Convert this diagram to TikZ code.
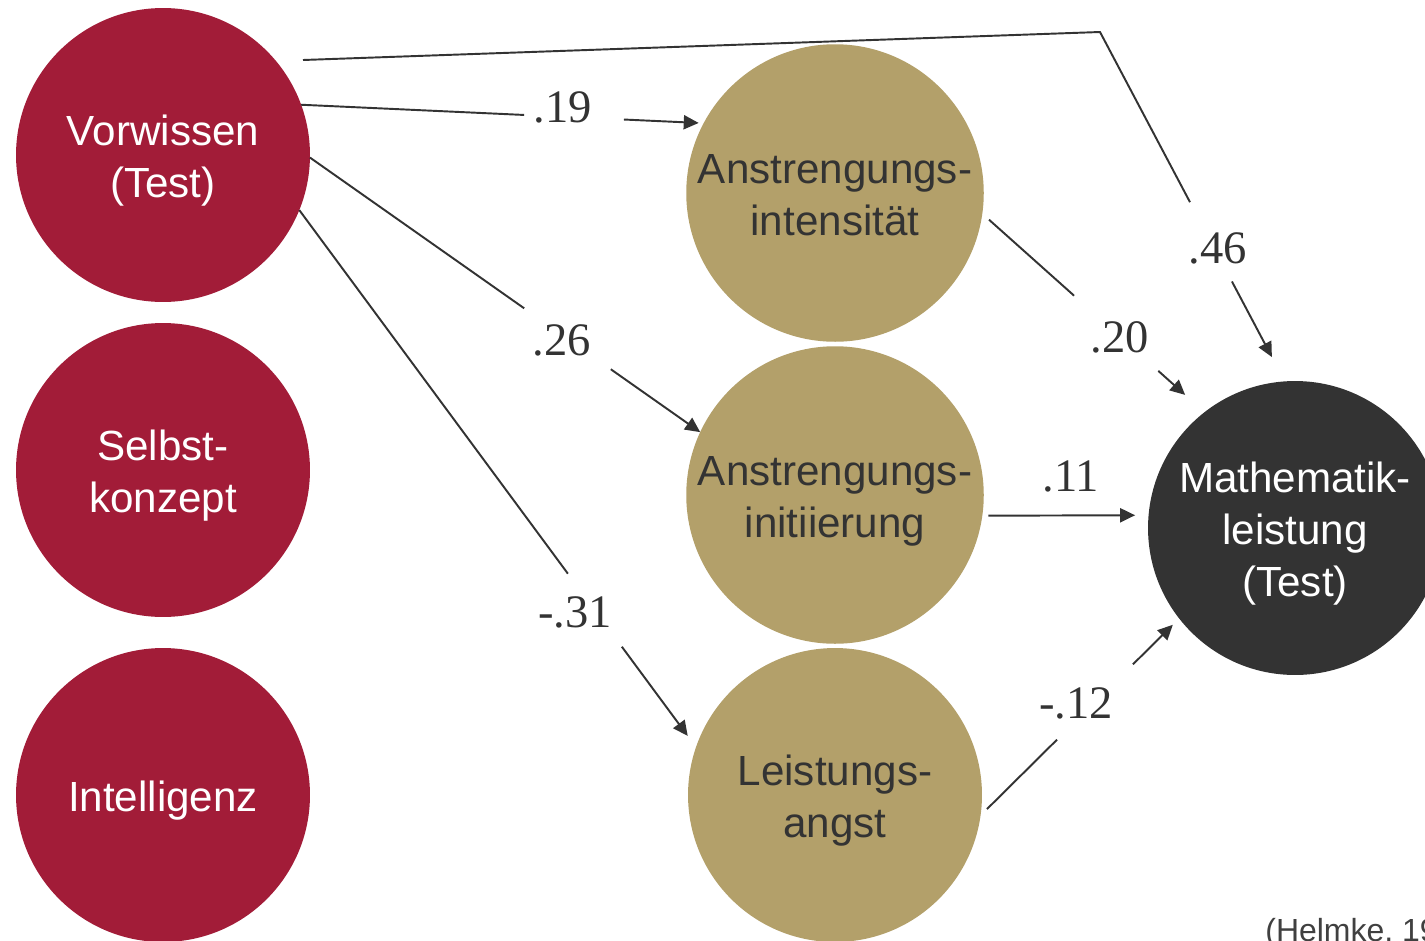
\documentclass[tikz,border=0pt]{standalone}
\usepackage{fontspec}
\setmainfont{Liberation Sans}
\newfontfamily\numfont{Liberation Serif}
\usetikzlibrary{arrows.meta}

\definecolor{wine}{HTML}{A21C38}
\definecolor{sand}{HTML}{B3A06A}
\definecolor{coal}{HTML}{333333}
\definecolor{ink}{HTML}{333333}
\definecolor{srcgray}{HTML}{404040}

% centred lines of a circle's text, set a little below the circle's centre
\newcommand\balltext[1]{\raisebox{0pt}[\dimexpr\height+0.26cm\relax][\depth]{\begin{tabular}{@{}c@{}}#1\end{tabular}}}

\tikzset{
  ball/.style={circle, minimum size=5.88cm, inner sep=0pt, outer sep=0pt,
    font=\fontsize{24}{29.6}\selectfont},
  redball/.style={ball, fill=wine, text=white},
  goldball/.style={ball, fill=sand, text=ink},
  darkball/.style={ball, fill=coal, text=white},
  edge/.style={draw=ink, line width=1.1pt},
  arr/.style={-{Triangle[length=8.5pt,width=8pt]}},
  coef/.style={text=ink, inner sep=0pt, font=\numfont\fontsize{26.5}{30}\selectfont},
  source/.style={text=srcgray, inner sep=0pt, font=\fontsize{18.2}{22}\selectfont}
}

\begin{document}
\begin{tikzpicture}[x=0.02cm, y=-0.02cm]
\useasboundingbox (0,0) rectangle (1425,940);
\clip (0,0) rectangle (1425,940);

% predictors
\node[redball] (vor)    at (163,155) {\balltext{Vorwissen\\(Test)}};
\node[redball] (selbst) at (163,470) {\balltext{Selbst-\\konzept}};
\node[redball] (intel)  at (163,795) {\balltext{Intelligenz}};

% mediators
\node[goldball] (ai) at (835,193) {\balltext{Anstrengungs-\\intensität}};
\node[goldball] (an) at (835,495) {\balltext{Anstrengungs-\\initiierung}};
\node[goldball] (la) at (835,795) {\balltext{Leistungs-\\angst}};

% outcome
\node[darkball] (mat) at (1295,528) {\balltext{Mathematik-\\leistung\\(Test)}};

% direct path Vorwissen -> Mathematikleistung
\coordinate (t0) at (303,60);
\coordinate (t1) at (1100,32);
\path (t1) -- (mat.94) coordinate[pos=0.487] (g46a) coordinate[pos=0.714] (g46b);
\draw[edge] (t0) -- (t1) -- (g46a);
\draw[edge, arr, shorten >=0.55cm] (g46b) -- (mat.94);
\node[coef] (c46) at (1218,248) {.46};

% Vorwissen -> Anstrengungsintensität
\path (vor.20) -- (ai.152) coordinate[pos=0.554] (g19a) coordinate[pos=0.802] (g19b);
\draw[edge] (vor.20) -- (g19a);
\draw[edge, arr, shorten >=0.1cm] (g19b) -- (ai.152);
\node[coef] (c19) at (563,107) {.19};

% Vorwissen -> Anstrengungsinitiierung
\path (vor.-1) -- (an.155) coordinate[pos=0.549] (g26a) coordinate[pos=0.771] (g26b);
\draw[edge] (vor.-1) -- (g26a);
\draw[edge, arr] (g26b) -- (an.155);
\node[coef] (c26) at (562,340) {.26};

% Vorwissen -> Leistungsangst
\path (vor.-22) -- (la.161) coordinate[pos=0.677] (g31a) coordinate[pos=0.813] (g31b);
\draw[edge] (vor.-22) -- (g31a);
\draw[edge, arr, shorten >=0.28cm] (g31b) -- (la.161);
\node[coef] (c31) at (575,612) {-.31};

% Anstrengungsintensität -> Mathematikleistung
\path (ai.-8) -- (mat.128) coordinate[pos=0.413] (g20a) coordinate[pos=0.792] (g20b);
\draw[edge, shorten <=0.18cm] (ai.-8) -- (g20a);
\draw[edge, arr, shorten >=0.52cm] (g20b) -- (mat.128);
\node[coef] (c20) at (1120,337) {.20};

% Anstrengungsinitiierung -> Mathematikleistung
\draw[edge, arr, shorten <=0.12cm, shorten >=0.27cm] (an.-8) -- (mat.175);
\node[coef] (c11) at (1071,476) {.11};

% Leistungsangst -> Mathematikleistung
\path (la.-8) -- (mat.218) coordinate[pos=0.385] (g12a) coordinate[pos=0.767] (g12b);
\draw[edge, shorten <=0.18cm] (la.-8) -- (g12a);
\draw[edge, arr, shorten >=0.18cm] (g12b) -- (mat.218);
\node[coef] (c12) at (1076,703) {-.12};

% source
\node[source, anchor=base west] (src) at (1265,941) {(Helmke, 1988)};
\end{tikzpicture}
\end{document}
